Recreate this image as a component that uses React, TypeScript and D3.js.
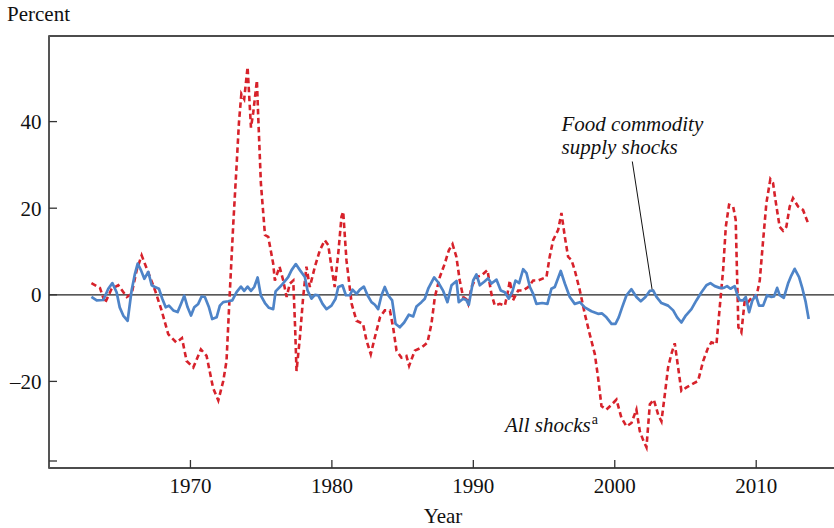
import React from "react";
import * as d3 from "d3";

// All shocks (red dashed): [year, percent]
const allShocks: [number, number][] = [
  [1963.0, 2.7], [1963.6, 1.6], [1963.96, -1.9], [1964.43, 1.4], [1964.9, 2.2], [1965.5, -0.5],
  [1965.84, 0.2], [1966.2, 5.7], [1966.55, 9.1], [1967.0, 5.3], [1967.5, 1.0], [1967.96, -3.6],
  [1968.43, -9.1], [1969.0, -11.0], [1969.4, -10.0], [1969.73, -15.3], [1970.2, -16.8], [1970.74, -12.6],
  [1971.14, -14.1], [1971.6, -21.5], [1971.97, -24.4], [1972.32, -19.9], [1972.55, -15.3], [1972.79, 1.0],
  [1973.03, 16.5], [1973.26, 29.7], [1973.43, 39.8], [1973.6, 46.4], [1973.8, 45.2], [1974.04, 52.6],
  [1974.28, 38.6], [1974.44, 42.1], [1974.7, 49.5], [1974.79, 41.3], [1974.98, 25.8], [1975.27, 13.8],
  [1975.5, 13.4], [1975.85, 7.2], [1975.97, 3.3], [1976.3, 6.5], [1976.56, 3.3], [1976.8, -0.5],
  [1977.03, 2.6], [1977.27, 3.3], [1977.4, -7.5], [1977.5, -17.6], [1977.74, -9.8], [1977.97, -0.5],
  [1978.2, 6.5], [1978.44, 1.8], [1978.8, 6.5], [1979.15, 10.3], [1979.5, 12.6], [1979.74, 11.5],
  [1979.97, 6.5], [1980.2, 1.8], [1980.45, 9.5], [1980.68, 18.1], [1980.8, 19.2], [1981.03, 8.0],
  [1981.4, -2.1], [1981.74, -6.0], [1982.2, -6.7], [1982.45, -10.6], [1982.75, -13.7], [1983.04, -9.8],
  [1983.4, -5.2], [1983.74, -3.6], [1984.1, -3.6], [1984.33, -7.5], [1984.57, -12.9], [1984.92, -14.5],
  [1985.27, -14.1], [1985.46, -16.4], [1985.86, -12.9], [1986.33, -12.2], [1986.76, -11.0], [1987.04, -6.7],
  [1987.28, -0.5], [1987.63, 4.1], [1987.98, 7.2], [1988.27, 10.3], [1988.53, 11.7], [1988.8, 8.8],
  [1989.04, 3.3], [1989.28, -0.5], [1989.5, -1.0], [1989.64, -2.1], [1989.87, 1.8], [1990.22, 4.1],
  [1990.58, 4.5], [1991.0, 5.7], [1991.28, 0.2], [1991.52, -2.5], [1991.87, -2.1], [1992.23, -2.5],
  [1992.46, 1.0], [1992.58, 3.3], [1992.8, -1.3], [1993.17, 1.0], [1993.52, 1.0], [1993.88, 1.8],
  [1994.23, 3.3], [1994.58, 3.3], [1995.17, 4.1], [1995.4, 8.8], [1995.64, 12.6], [1996.0, 15.0],
  [1996.23, 18.9], [1996.47, 13.4], [1996.7, 8.8], [1996.94, 8.0], [1997.17, 5.7], [1997.53, 1.0],
  [1997.88, -4.4], [1998.23, -9.1], [1998.59, -13.7], [1998.82, -19.1], [1999.06, -25.7], [1999.41, -26.5],
  [1999.77, -25.4], [2000.12, -24.2], [2000.47, -28.4], [2000.83, -30.4], [2001.18, -29.6], [2001.53, -26.5],
  [2001.77, -31.5], [2002.0, -33.5], [2002.24, -35.2], [2002.48, -25.3], [2002.76, -24.2], [2003.07, -27.7],
  [2003.3, -29.2], [2003.54, -23.0], [2003.77, -16.8], [2004.0, -13.7], [2004.24, -11.2], [2004.48, -16.8],
  [2004.71, -22.2], [2005.07, -21.4], [2005.54, -20.5], [2005.89, -19.9], [2006.25, -15.3], [2006.6, -12.2],
  [2006.83, -11.0], [2007.19, -11.4], [2007.42, -2.9], [2007.66, 5.7], [2007.85, 15.7], [2008.08, 20.8],
  [2008.37, 20.4], [2008.55, 17.3], [2008.65, 4.1], [2008.74, -7.5], [2008.95, -8.7], [2009.19, -1.3],
  [2009.43, -1.7], [2009.78, -0.2], [2010.01, -0.5], [2010.25, 3.3], [2010.49, 12.6], [2010.72, 21.2],
  [2011.0, 26.7], [2011.19, 25.8], [2011.43, 20.4], [2011.66, 15.7], [2011.9, 14.8], [2012.13, 15.7],
  [2012.37, 20.4], [2012.6, 22.3], [2012.96, 20.4], [2013.31, 19.6], [2013.67, 16.5],
];

// Food commodity supply shocks (blue solid): [year, percent]
const foodShocks: [number, number][] = [
  [1963.0, -0.5], [1963.37, -1.3], [1963.84, -1.2], [1964.19, 1.4], [1964.48, 2.7], [1964.78, 0.6],
  [1965.0, -2.9], [1965.25, -4.8], [1965.56, -6.0], [1965.84, 1.0], [1966.08, 4.9], [1966.27, 7.2],
  [1966.5, 5.7], [1966.74, 3.7], [1967.02, 5.3], [1967.26, 2.2], [1967.49, 1.8], [1967.77, 1.4],
  [1968.01, -0.9], [1968.25, -2.9], [1968.48, -2.5], [1968.79, -3.6], [1969.09, -4.0], [1969.33, -2.1],
  [1969.56, -0.2], [1969.8, -2.9], [1970.04, -4.8], [1970.27, -2.9], [1970.55, -2.1], [1970.79, -0.4],
  [1971.02, -0.5], [1971.31, -2.9], [1971.54, -5.6], [1971.85, -5.2], [1972.08, -2.5], [1972.32, -1.7],
  [1972.67, -1.5], [1972.96, -1.3], [1973.26, 0.6], [1973.57, 1.9], [1973.8, 0.9], [1974.04, 1.9],
  [1974.28, 0.9], [1974.51, 1.8], [1974.75, 4.0], [1974.98, -0.2], [1975.27, -1.9], [1975.55, -3.0],
  [1975.85, -3.3], [1976.02, 0.8], [1976.44, 2.2], [1976.91, 4.1], [1977.15, 5.7], [1977.45, 7.1],
  [1977.74, 5.7], [1978.09, 4.1], [1978.28, 1.0], [1978.56, -0.9], [1978.8, 0.0], [1979.03, -0.1],
  [1979.34, -2.1], [1979.62, -3.3], [1979.97, -2.5], [1980.26, -0.9], [1980.45, 1.8], [1980.75, 2.2],
  [1980.99, -0.1], [1981.27, -0.1], [1981.46, 1.2], [1981.74, 0.2], [1981.98, 1.2], [1982.26, 1.9],
  [1982.52, -0.1], [1982.8, -1.7], [1983.04, -2.3], [1983.27, -3.3], [1983.51, -0.1], [1983.74, 1.8],
  [1983.98, -0.1], [1984.26, -1.3], [1984.5, -6.7], [1984.8, -7.5], [1985.11, -6.4], [1985.44, -4.6],
  [1985.75, -5.0], [1985.98, -2.7], [1986.33, -1.7], [1986.57, -0.9], [1986.81, 1.4], [1987.23, 4.0],
  [1987.51, 2.9], [1987.87, 0.9], [1988.17, -1.7], [1988.46, 2.2], [1988.81, 3.2], [1988.97, -1.7],
  [1989.28, -0.9], [1989.5, -1.2], [1989.68, -2.3], [1989.99, 3.3], [1990.22, 4.7], [1990.46, 2.2],
  [1990.77, 3.0], [1991.05, 3.8], [1991.28, 2.6], [1991.64, 3.5], [1991.94, 1.0], [1992.23, 0.6],
  [1992.51, -0.9], [1992.75, 0.6], [1992.98, 3.3], [1993.24, 2.7], [1993.52, 5.9], [1993.76, 5.0],
  [1994.0, 1.8], [1994.23, 0.2], [1994.46, -2.1], [1994.87, -1.9], [1995.24, -2.1], [1995.52, 1.4],
  [1995.76, 1.8], [1996.18, 5.5], [1996.47, 2.6], [1996.82, -0.5], [1997.17, -2.1], [1997.53, -1.7],
  [1997.88, -2.9], [1998.35, -3.8], [1998.82, -4.4], [1999.1, -4.3], [1999.41, -5.2], [1999.77, -6.7],
  [2000.05, -6.7], [2000.28, -5.2], [2000.52, -2.9], [2000.83, -0.1], [2001.18, 1.3], [2001.53, -0.5],
  [2001.84, -1.5], [2002.17, -0.5], [2002.47, 0.9], [2002.71, 1.0], [2002.95, -0.5], [2003.3, -1.9],
  [2003.77, -2.5], [2004.13, -3.6], [2004.41, -5.2], [2004.71, -6.4], [2005.02, -4.8], [2005.42, -3.3],
  [2005.77, -1.3], [2006.13, 0.6], [2006.48, 2.2], [2006.76, 2.7], [2007.07, 2.0], [2007.42, 1.6],
  [2007.71, 1.6], [2007.94, 2.0], [2008.18, 1.4], [2008.48, 2.0], [2008.67, -0.1], [2008.84, -1.3],
  [2009.07, -1.3], [2009.26, -0.5], [2009.5, -4.0], [2009.73, -1.3], [2009.97, -0.1], [2010.2, -2.5],
  [2010.49, -2.5], [2010.77, -0.1], [2011.08, -0.5], [2011.26, -0.4], [2011.48, 1.6], [2011.66, -0.1],
  [2011.95, -0.7], [2012.25, 2.6], [2012.49, 4.5], [2012.72, 6.0], [2013.03, 4.1], [2013.27, 1.4],
  [2013.5, -1.7], [2013.71, -5.6],
];

const xTicks = [1970, 1980, 1990, 2000, 2010];
const yTicks = [40, 20, 0, -20];
const yMinorTicks = [-40];

const xDomain: [number, number] = [1960, 2015.5];
const yDomain: [number, number] = [-40, 60];

// Annotation anchor on the food-shock series
const foodAnnot: [number, number] = [2002.71, 1.0];

const W = 834;
const H = 528;
const FONT = "'Liberation Serif', 'DejaVu Serif', 'Times New Roman', serif";

export default function App() {
  const x = d3.scaleLinear().domain(xDomain).range([49, 834]);
  const y = d3.scaleLinear().domain(yDomain).range([468, 35]);
  const line = d3
    .line<[number, number]>()
    .x((d) => x(d[0]))
    .y((d) => y(d[1]));

  const left = x(xDomain[0]);
  const right = W;
  const top = 36;
  const bottom = 468;

  const ax = x(foodAnnot[0]);
  const ay = y(foodAnnot[1]);

  return (
    <svg
      width={W}
      height={H}
      style={{ position: "absolute", left: 0, top: 0, background: "#fff" }}
      fontFamily={FONT}
    >
      <rect x={0} y={0} width={W} height={H} fill="#fff" />
      {/* frame */}
      <line x1={left} x2={right} y1={top} y2={top} stroke="#111" strokeWidth={1.4} />
      <line x1={left} x2={right} y1={bottom} y2={bottom} stroke="#111" strokeWidth={1.4} />
      <line x1={left} x2={left} y1={top - 0.7} y2={bottom + 0.7} stroke="#555" strokeWidth={2} />
      {/* zero line */}
      <line x1={left} x2={right} y1={y(0)} y2={y(0)} stroke="#222" strokeWidth={1.2} />

      {/* y ticks */}
      {yTicks.map((t) => (
        <g key={t}>
          <line x1={left} x2={left + 8} y1={y(t)} y2={y(t)} stroke="#333" strokeWidth={1.3} />
          <text x={41.5} y={y(t)} dy="0.36em" textAnchor="end" fontSize={21} fill="#111">
            {t < 0 ? `\u2013${Math.abs(t)}` : t}
          </text>
        </g>
      ))}
      {yMinorTicks.map((t) => (
        <line key={t} x1={left} x2={left + 8} y1={y(t) - 7} y2={y(t) - 7} stroke="#333" strokeWidth={1.3} />
      ))}

      {/* x ticks */}
      {xTicks.map((t) => (
        <g key={t}>
          <line x1={x(t)} x2={x(t)} y1={bottom} y2={bottom - 8} stroke="#333" strokeWidth={1.3} />
          <text x={x(t)} y={493} textAnchor="middle" fontSize={21} fill="#111">
            {t}
          </text>
        </g>
      ))}

      {/* axis titles */}
      <text x={7} y={21} fontSize={21} fill="#111">
        Percent
      </text>
      <text x={443} y={523} textAnchor="middle" fontSize={21} fill="#111">
        Year
      </text>

      {/* series */}
      <path
        d={line(allShocks) || ""}
        fill="none"
        stroke="#d7222b"
        strokeWidth={2.6}
        strokeDasharray="5.5,3.5"
      />
      <path d={line(foodShocks) || ""} fill="none" stroke="#4e84c8" strokeWidth={2.7} strokeLinejoin="round" />

      {/* annotations */}
      <line x1={632.3} y1={161.5} x2={ax - 1} y2={ay - 1} stroke="#111" strokeWidth={1} />
      <text x={561.5} y={131} fontSize={21} fontStyle="italic" fill="#111">
        Food commodity
      </text>
      <text x={561.5} y={154} fontSize={21} fontStyle="italic" fill="#111">
        supply shocks
      </text>
      <text x={505} y={432} fontSize={21} fontStyle="italic" fill="#111">
        All shocks
        <tspan fontSize={14} fontStyle="normal" dy={-8} dx={1}>
          a
        </tspan>
      </text>
    </svg>
  );
}
